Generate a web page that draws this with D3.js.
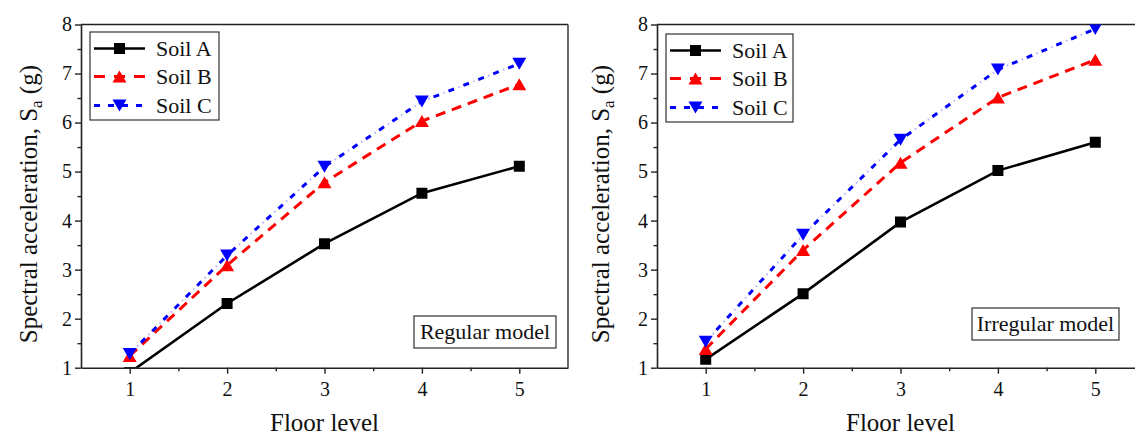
<!DOCTYPE html>
<html>
<head>
<meta charset="utf-8">
<script src="https://cdn.jsdelivr.net/npm/d3@7"></script>
<style>
  html, body { margin: 0; padding: 0; background: #fff; }
  svg { display: block; }
</style>
</head>
<body>
<svg id="chart" width="1135" height="437"></svg>
<script>
// ---- data ----
const floors = [1, 2, 3, 4, 5];
const seriesNames = ["Soil A", "Soil B", "Soil C"];
const regularA = [0.90, 2.31, 3.53, 4.56, 5.11];
const regularB = [1.24, 3.09, 4.78, 6.03, 6.78];
const regularC = [1.28, 3.29, 5.10, 6.43, 7.20];
const irregularA = [1.17, 2.51, 3.97, 5.02, 5.60];
const irregularB = [1.38, 3.40, 5.18, 6.51, 7.28];
const irregularC = [1.53, 3.71, 5.65, 7.08, 7.91];
const xTicks = [1, 2, 3, 4, 5];
const yTicks = [1, 2, 3, 4, 5, 6, 7, 8];
const panelLabels = ["Regular model", "Irregular model"];
const xTitle = "Floor level";

// ---- layout/styles ----
const FONT = "'Liberation Serif', 'Times New Roman', Times, serif";
const styles = [
  { color: "#000000", width: 2.6, dash: null, marker: "square" },
  { color: "#ff0000", width: 3, dash: "10,7", marker: "up" },
  { color: "#0000ff", width: 3, dash: "6,10", marker: "down" }
];

const panels = [
  { x0: 81, x1: 568, y0: 367.7, y1: 24.5, series: [regularA, regularB, regularC], label: panelLabels[0],
    legend: { x: 90, y: 32, w: 129, h: 88 }, box: { x: 414, y: 316, w: 142, h: 32 }, titleX: 37 },
  { x0: 657, x1: 1144, y0: 367.7, y1: 24.5, series: [irregularA, irregularB, irregularC], label: panelLabels[1],
    legend: { x: 666, y: 34, w: 127, h: 88 }, box: { x: 972, y: 308, w: 147, h: 32 }, titleX: 609 }
];

const svg = d3.select("#chart").attr("font-family", FONT);
const defs = svg.append("defs");

function txt(sel, size) {
  return sel.attr("font-family", FONT).style("font-family", FONT).style("font-size", size + "px").attr("fill", "#111");
}

function markerPath(type, cx, cy) {
  const p = d3.path();
  if (type === "square") {
    const s = 5.5;
    p.rect(cx - s, cy - s, 2 * s, 2 * s);
  } else if (type === "up") {
    const hw = 7, hh = 6;
    p.moveTo(cx, cy - hh); p.lineTo(cx + hw, cy + hh); p.lineTo(cx - hw, cy + hh); p.closePath();
  } else {
    const hw = 7, hh = 6;
    p.moveTo(cx - hw, cy - hh); p.lineTo(cx + hw, cy - hh); p.lineTo(cx, cy + hh); p.closePath();
  }
  return p.toString();
}

panels.forEach((pn, i) => {
  const x = d3.scaleLinear().domain([0.5, 5.5]).range([pn.x0, pn.x1]);
  const y = d3.scaleLinear().domain([1, 8]).range([pn.y0, pn.y1]);
  const g = svg.append("g");

  const clipId = "clip" + i;
  defs.append("clipPath").attr("id", clipId).append("rect")
    .attr("x", pn.x0).attr("y", pn.y1).attr("width", pn.x1 - pn.x0).attr("height", pn.y0 - pn.y1);

  // frame top & right
  g.append("line").attr("x1", pn.x0).attr("x2", pn.x1).attr("y1", pn.y1).attr("y2", pn.y1)
    .attr("stroke", "#222").attr("stroke-width", 1.6);
  g.append("line").attr("x1", pn.x1).attr("x2", pn.x1).attr("y1", pn.y1).attr("y2", pn.y0)
    .attr("stroke", "#444").attr("stroke-width", 1.6);

  // minor ticks
  const xMinor = d3.range(1.5, 5.5, 1);
  const yMinor = d3.range(1.5, 8, 1);
  const gxm = g.append("g").attr("transform", `translate(0,${pn.y0})`)
    .call(d3.axisBottom(x).tickValues(xMinor).tickSize(3.5).tickFormat(""));
  const gym = g.append("g").attr("transform", `translate(${pn.x0},0)`)
    .call(d3.axisLeft(y).tickValues(yMinor).tickSize(3.5).tickFormat(""));
  [gxm, gym].forEach(a => { a.select(".domain").remove(); a.selectAll("line").attr("stroke", "#222").attr("stroke-width", 1.4); });

  // major axes
  const gx = g.append("g").attr("transform", `translate(0,${pn.y0})`)
    .call(d3.axisBottom(x).tickValues(xTicks).tickSize(6).tickPadding(8).tickSizeOuter(0).tickFormat(d3.format("d")));
  const gy = g.append("g").attr("transform", `translate(${pn.x0},0)`)
    .call(d3.axisLeft(y).tickValues(yTicks).tickSize(6).tickPadding(3).tickSizeOuter(0).tickFormat(d3.format("d")));
  [gx, gy].forEach(a => {
    a.attr("font-family", FONT).attr("font-size", 20);
    a.select(".domain").attr("stroke", "#222").attr("stroke-width", 1.6);
    a.selectAll("line").attr("stroke", "#222").attr("stroke-width", 1.4);
    txt(a.selectAll("text"), 20);
  });

  // series
  const plot = g.append("g").attr("clip-path", `url(#${clipId})`);
  const line = d3.line().x((d, k) => x(floors[k])).y(d => y(d));
  pn.series.forEach((vals, s) => {
    const st = styles[s];
    plot.append("path").attr("d", line(vals)).attr("fill", "none")
      .attr("stroke", st.color).attr("stroke-width", st.width)
      .attr("stroke-dasharray", st.dash);
    if (s === 2) {
      plot.append("path").attr("d", line(vals)).attr("fill", "none")
        .attr("stroke", st.color).attr("stroke-opacity", 0.3).attr("stroke-width", 2)
        .attr("stroke-dasharray", "0,10.5,1.5,4");
    }
  });
  pn.series.forEach((vals, s) => {
    const st = styles[s];
    plot.selectAll(null).data(vals).enter().append("path")
      .attr("d", (d, k) => markerPath(st.marker, x(floors[k]), y(d)))
      .attr("fill", st.color);
  });

  // legend
  const L = pn.legend;
  const lg = g.append("g");
  lg.append("rect").attr("x", L.x).attr("y", L.y).attr("width", L.w).attr("height", L.h)
    .attr("fill", "#fff").attr("stroke", "#333").attr("stroke-width", 1.2);
  const rowY = [L.y + 16.5, L.y + 44.5, L.y + 73.5];
  seriesNames.forEach((name, s) => {
    const st = styles[s];
    const ly = rowY[s];
    const lx0 = L.x + 4, lx1 = L.x + 55;
    lg.append("line").attr("x1", lx0).attr("x2", lx1).attr("y1", ly).attr("y2", ly)
      .attr("stroke", st.color).attr("stroke-width", st.width)
      .attr("stroke-dasharray", s === 1 ? "11,9" : (s === 2 ? "6,8" : null));
    lg.append("path").attr("d", markerPath(st.marker, (lx0 + lx1) / 2, ly)).attr("fill", st.color);
    txt(lg.append("text").attr("x", L.x + 66).attr("y", ly + 7.5), 22).text(name);
  });

  // annotation box
  const B = pn.box;
  g.append("rect").attr("x", B.x).attr("y", B.y).attr("width", B.w).attr("height", B.h)
    .attr("fill", "#fff").attr("stroke", "#333").attr("stroke-width", 1.2);
  txt(g.append("text").attr("x", B.x + B.w / 2).attr("y", B.y + 23).attr("text-anchor", "middle"), 22)
    .text(pn.label);

  // axis titles
  txt(g.append("text").attr("x", (pn.x0 + pn.x1) / 2).attr("y", 431).attr("text-anchor", "middle"), 25)
    .text(xTitle);
  const yt = txt(g.append("text").attr("text-anchor", "middle")
    .attr("transform", `translate(${pn.titleX},${(pn.y0 + pn.y1) / 2 + 8}) rotate(-90)`), 25);
  yt.append("tspan").text("Spectral acceleration, S");
  yt.append("tspan").attr("dy", 5).style("font-size", "17px").text("a");
  yt.append("tspan").attr("dy", -5).text(" (g)");
});
</script>
</body>
</html>
